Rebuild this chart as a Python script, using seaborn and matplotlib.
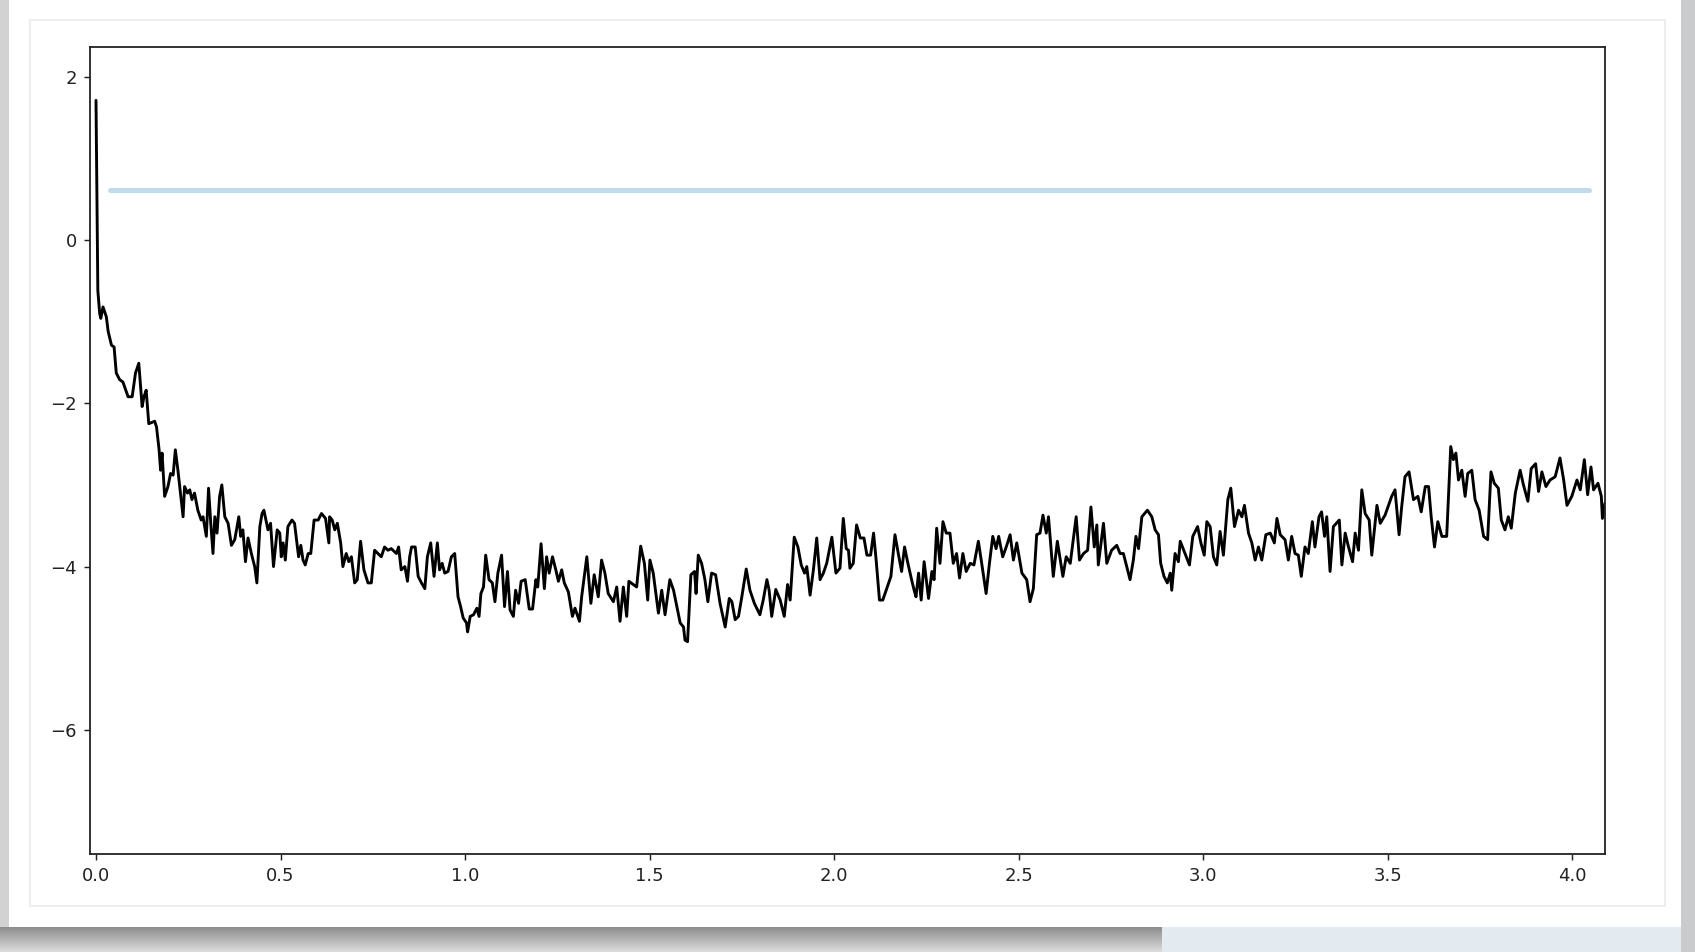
import numpy as np
import matplotlib
matplotlib.use("Agg")
import matplotlib.pyplot as plt
import seaborn as sns
from matplotlib.patches import Rectangle
from matplotlib.colors import LinearSegmentedColormap

sns.set_theme(context="notebook", style="ticks")
plt.rcParams["font.family"] = ["DejaVu Sans"]

# ---- series: time (t) and signal value, in four stretches ----
t_a = [0.000, 0.005, 0.010, 0.013, 0.019, 0.028, 0.033, 0.042, 0.049, 0.055,
       0.064, 0.073, 0.087, 0.098, 0.107, 0.116, 0.125, 0.130, 0.136, 0.143,
       0.159, 0.164, 0.171, 0.175, 0.179, 0.186, 0.195, 0.202, 0.209, 0.215,
       0.222, 0.228, 0.236, 0.240, 0.248, 0.254, 0.260, 0.267, 0.276, 0.285,
       0.290, 0.299, 0.305, 0.311, 0.317, 0.322, 0.328, 0.335, 0.341, 0.349,
       0.358, 0.367, 0.376, 0.387, 0.392, 0.398, 0.405, 0.412, 0.421, 0.430,
       0.436, 0.444, 0.450, 0.455, 0.466, 0.473, 0.481, 0.491, 0.498, 0.502,
       0.507, 0.513, 0.520, 0.531, 0.538, 0.549, 0.555, 0.561, 0.567, 0.575,
       0.582, 0.591, 0.602, 0.611, 0.622, 0.631, 0.633, 0.640, 0.647, 0.654,
       0.663, 0.669, 0.678, 0.685, 0.692, 0.701, 0.708, 0.717, 0.726, 0.737,
       0.746, 0.755, 0.764, 0.773, 0.782, 0.791, 0.800, 0.814, 0.820, 0.827,
       0.837, 0.844, 0.850, 0.855, 0.865, 0.873, 0.882, 0.891, 0.898, 0.907,
       0.916, 0.925, 0.931, 0.938, 0.945, 0.954, 0.963, 0.972, 0.981, 0.988,
       0.995, 1.004]
v_a = [1.71, -0.62, -0.90, -0.96, -0.82, -0.94, -1.12, -1.29, -1.31, -1.63,
       -1.71, -1.74, -1.92, -1.92, -1.63, -1.51, -2.04, -1.92, -1.84, -2.25,
       -2.22, -2.29, -2.57, -2.82, -2.61, -3.14, -3.02, -2.86, -2.88, -2.57,
       -2.82, -3.06, -3.39, -3.02, -3.10, -3.06, -3.18, -3.10, -3.31, -3.43,
       -3.39, -3.63, -3.04, -3.47, -3.84, -3.39, -3.59, -3.14, -3.00, -3.39,
       -3.47, -3.74, -3.67, -3.39, -3.63, -3.55, -3.94, -3.65, -3.84, -4.00,
       -4.20, -3.51, -3.35, -3.31, -3.55, -3.47, -4.00, -3.55, -3.59, -3.88,
       -3.71, -3.92, -3.51, -3.43, -3.47, -3.88, -3.74, -3.92, -3.98, -3.84,
       -3.84, -3.43, -3.43, -3.35, -3.41, -3.71, -3.39, -3.43, -3.55, -3.47,
       -3.71, -4.00, -3.84, -3.94, -3.88, -4.20, -4.16, -3.69, -4.04, -4.20,
       -4.20, -3.80, -3.84, -3.88, -3.76, -3.80, -3.78, -3.84, -3.76, -4.04,
       -4.00, -4.18, -3.88, -3.76, -3.76, -4.12, -4.20, -4.27, -3.88, -3.71,
       -4.12, -3.71, -4.04, -3.96, -4.08, -4.06, -3.88, -3.84, -4.37, -4.49,
       -4.63, -4.69]

t_b = [1.007, 1.014, 1.023, 1.032, 1.038, 1.043, 1.050, 1.056, 1.065, 1.074,
       1.081, 1.089, 1.099, 1.107, 1.115, 1.122, 1.131, 1.137, 1.145, 1.152,
       1.163, 1.174, 1.183, 1.192, 1.197, 1.206, 1.215, 1.221, 1.228, 1.237,
       1.246, 1.253, 1.262, 1.269, 1.280, 1.291, 1.298, 1.310, 1.316, 1.330,
       1.341, 1.350, 1.361, 1.370, 1.379, 1.388, 1.402, 1.411, 1.420, 1.429,
       1.438, 1.444, 1.456, 1.465, 1.476, 1.486, 1.495, 1.501, 1.510, 1.524,
       1.533, 1.542, 1.555, 1.565, 1.574, 1.583, 1.592, 1.596, 1.603, 1.612,
       1.622, 1.626, 1.632, 1.641, 1.650, 1.658, 1.668, 1.679, 1.691, 1.705,
       1.716, 1.723, 1.732, 1.741, 1.750, 1.762, 1.772, 1.784, 1.799, 1.808,
       1.818, 1.824, 1.831, 1.842, 1.854, 1.865, 1.874, 1.881, 1.892, 1.902,
       1.911, 1.920, 1.926, 1.935, 1.944, 1.953, 1.962, 1.971, 1.980, 1.994,
       2.005]
v_b = [-4.80, -4.61, -4.59, -4.51, -4.61, -4.33, -4.25, -3.86, -4.16, -4.20,
       -4.43, -4.08, -3.86, -4.49, -4.06, -4.53, -4.61, -4.29, -4.45, -4.18,
       -4.16, -4.52, -4.52, -4.16, -4.25, -3.72, -4.27, -3.88, -4.08, -3.88,
       -4.04, -4.18, -4.04, -4.20, -4.31, -4.61, -4.51, -4.67, -4.37, -3.88,
       -4.45, -4.10, -4.37, -3.92, -4.08, -4.33, -4.43, -4.25, -4.67, -4.25,
       -4.61, -4.18, -4.22, -4.25, -3.75, -3.96, -4.41, -3.92, -4.08, -4.57,
       -4.29, -4.59, -4.16, -4.29, -4.49, -4.69, -4.74, -4.90, -4.92, -4.10,
       -4.06, -4.33, -3.86, -3.96, -4.16, -4.43, -4.08, -4.10, -4.45, -4.74,
       -4.39, -4.43, -4.65, -4.61, -4.37, -4.03, -4.29, -4.45, -4.59, -4.41,
       -4.16, -4.29, -4.61, -4.28, -4.41, -4.61, -4.22, -4.41, -3.64, -3.76,
       -3.98, -4.08, -4.00, -4.35, -4.04, -3.65, -4.16, -4.08, -3.96, -3.64,
       -4.08]

t_c = [2.016, 2.025, 2.033, 2.039, 2.043, 2.052, 2.061, 2.071, 2.081, 2.089,
       2.099, 2.107, 2.114, 2.123, 2.132, 2.141, 2.154, 2.165, 2.174, 2.183,
       2.191, 2.200, 2.210, 2.217, 2.222, 2.229, 2.236, 2.244, 2.256, 2.265,
       2.271, 2.278, 2.287, 2.295, 2.304, 2.314, 2.323, 2.332, 2.340, 2.349,
       2.358, 2.369, 2.379, 2.391, 2.400, 2.412, 2.421, 2.430, 2.439, 2.446,
       2.457, 2.468, 2.477, 2.486, 2.495, 2.509, 2.522, 2.531, 2.540, 2.549,
       2.558, 2.566, 2.575, 2.581, 2.594, 2.605, 2.620, 2.629, 2.640, 2.656,
       2.665, 2.676, 2.687, 2.696, 2.705, 2.712, 2.716, 2.730, 2.739, 2.752,
       2.766, 2.775, 2.784, 2.793, 2.802, 2.811, 2.818, 2.825, 2.834, 2.849,
       2.861, 2.870, 2.879, 2.885, 2.894, 2.903, 2.911, 2.915, 2.924, 2.933,
       2.938, 2.951, 2.963, 2.972, 2.985, 2.994, 3.003, 3.010, 3.019, 3.028,
       3.037]
v_c = [-4.02, -3.41, -3.78, -3.80, -4.02, -3.96, -3.49, -3.65, -3.65, -3.86,
       -3.86, -3.59, -3.92, -4.41, -4.41, -4.29, -4.12, -3.61, -3.84, -4.06,
       -3.76, -3.96, -4.16, -4.29, -4.37, -4.08, -4.41, -3.94, -4.39, -4.06,
       -4.16, -3.53, -3.96, -3.45, -3.59, -3.59, -3.96, -3.84, -4.14, -3.84,
       -4.06, -3.96, -3.98, -3.69, -3.96, -4.33, -3.96, -3.63, -3.78, -3.63,
       -3.88, -3.74, -3.61, -3.92, -3.71, -4.08, -4.16, -4.43, -4.27, -3.61,
       -3.59, -3.37, -3.59, -3.39, -4.12, -3.69, -4.12, -3.88, -3.96, -3.39,
       -3.92, -3.84, -3.80, -3.27, -3.76, -3.49, -3.98, -3.47, -3.96, -3.80,
       -3.74, -3.84, -3.84, -4.00, -4.16, -3.92, -3.63, -3.78, -3.39, -3.31,
       -3.39, -3.55, -3.61, -3.96, -4.12, -4.20, -4.08, -4.29, -3.84, -3.94,
       -3.69, -3.84, -3.98, -3.63, -3.51, -3.71, -3.86, -3.45, -3.51, -3.88,
       -3.98]

t_d = [3.046, 3.055, 3.067, 3.075, 3.085, 3.096, 3.105, 3.112, 3.123, 3.132,
       3.141, 3.150, 3.159, 3.170, 3.182, 3.193, 3.200, 3.209, 3.222, 3.231,
       3.240, 3.249, 3.258, 3.266, 3.276, 3.285, 3.296, 3.303, 3.314, 3.321,
       3.329, 3.335, 3.344, 3.353, 3.369, 3.376, 3.385, 3.394, 3.405, 3.412,
       3.421, 3.430, 3.439, 3.450, 3.457, 3.471, 3.480, 3.493, 3.511, 3.520,
       3.531, 3.538, 3.547, 3.558, 3.570, 3.582, 3.591, 3.602, 3.611, 3.618,
       3.627, 3.636, 3.647, 3.660, 3.671, 3.678, 3.685, 3.692, 3.701, 3.710,
       3.717, 3.728, 3.737, 3.748, 3.760, 3.771, 3.780, 3.789, 3.800, 3.808,
       3.818, 3.827, 3.835, 3.846, 3.859, 3.868, 3.880, 3.889, 3.901, 3.909,
       3.918, 3.929, 3.940, 3.954, 3.967, 3.977, 3.986, 3.999, 4.013, 4.022,
       4.033, 4.042, 4.051, 4.058, 4.070, 4.079, 4.082, 4.089]
v_d = [-3.57, -3.86, -3.18, -3.04, -3.51, -3.31, -3.39, -3.25, -3.59, -3.71,
       -3.92, -3.76, -3.92, -3.61, -3.59, -3.71, -3.41, -3.61, -3.67, -3.92,
       -3.63, -3.84, -3.86, -4.12, -3.76, -3.84, -3.45, -3.76, -3.39, -3.33,
       -3.63, -3.39, -4.06, -3.51, -3.43, -3.98, -3.59, -3.76, -3.94, -3.59,
       -3.80, -3.06, -3.35, -3.43, -3.86, -3.25, -3.47, -3.37, -3.14, -3.06,
       -3.61, -3.27, -2.90, -2.84, -3.18, -3.14, -3.33, -3.02, -3.02, -3.39,
       -3.76, -3.45, -3.63, -3.63, -2.53, -2.69, -2.61, -2.94, -2.82, -3.14,
       -2.86, -2.82, -3.18, -3.31, -3.63, -3.67, -2.84, -2.98, -3.04, -3.43,
       -3.55, -3.39, -3.53, -3.10, -2.82, -3.00, -3.20, -2.80, -2.74, -3.08,
       -2.84, -3.02, -2.94, -2.90, -2.67, -2.94, -3.25, -3.14, -2.94, -3.06,
       -2.69, -3.12, -2.78, -3.06, -2.98, -3.14, -3.41, -3.22]

# horizontal reference level
ref_level = 0.61
ref_span = [0.038, 4.045]

x_ticks = [0.0, 0.5, 1.0, 1.5, 2.0, 2.5, 3.0, 3.5, 4.0]
y_ticks = [-6, -4, -2, 0, 2]

t = np.concatenate([t_a, t_b, t_c, t_d])
v = np.concatenate([v_a, v_b, v_c, v_d])

W, H, DPI = 1695, 952, 130
fig = plt.figure(figsize=(W / DPI, H / DPI), dpi=DPI, facecolor="white")

# window frame around the figure
bg = fig.add_axes([0, 0, 1, 1], zorder=-5)
shade = LinearSegmentedColormap.from_list("shade", ["#8d8d8d", "#dcdcdc"])
bg.imshow(np.linspace(0, 1, 40)[:, None], extent=(0, 1162, 952, 927),
          cmap=shade, aspect="auto", origin="upper")
bg.add_patch(Rectangle((1162, 927), W - 1162, 25, color="#e3ebf0", lw=0))
bg.add_patch(Rectangle((1681, 0), W - 1681, 952, color="#c9cbcc", lw=0))
bg.add_patch(Rectangle((0, 0), 9, 927, color="#d2d2d2", lw=0))
bg.add_patch(Rectangle((30, 20), 1635, 886, fill=False, ec="#ececec", lw=1))
bg.set_xlim(0, W)
bg.set_ylim(H, 0)
bg.set_axis_off()

ax = fig.add_axes([89.5 / W, 1 - 854 / H, (1605 - 89.5) / W, (854 - 46.7) / H])
ax.set_facecolor("white")
sns.lineplot(x=t, y=v, ax=ax, color="black", lw=1.6, sort=False, estimator=None)
sns.lineplot(x=ref_span, y=[ref_level, ref_level], ax=ax, color="#c2dbec",
             lw=2.8, estimator=None)

ax.set_xlim(-0.0176, 4.089)
ax.set_ylim(-7.52, 2.367)
ax.set_xticks(x_ticks)
ax.set_yticks(y_ticks)
ax.xaxis.set_major_formatter(matplotlib.ticker.FormatStrFormatter("%.1f"))
ax.tick_params(labelsize=10, length=3.5, width=0.8, colors="#222222")
for s in ax.spines.values():
    s.set_visible(True)
    s.set_linewidth(1.0)
    s.set_color("#222222")
ax.set_xlabel("")
ax.set_ylabel("")

fig.savefig("out.png", dpi=DPI, facecolor="white")
